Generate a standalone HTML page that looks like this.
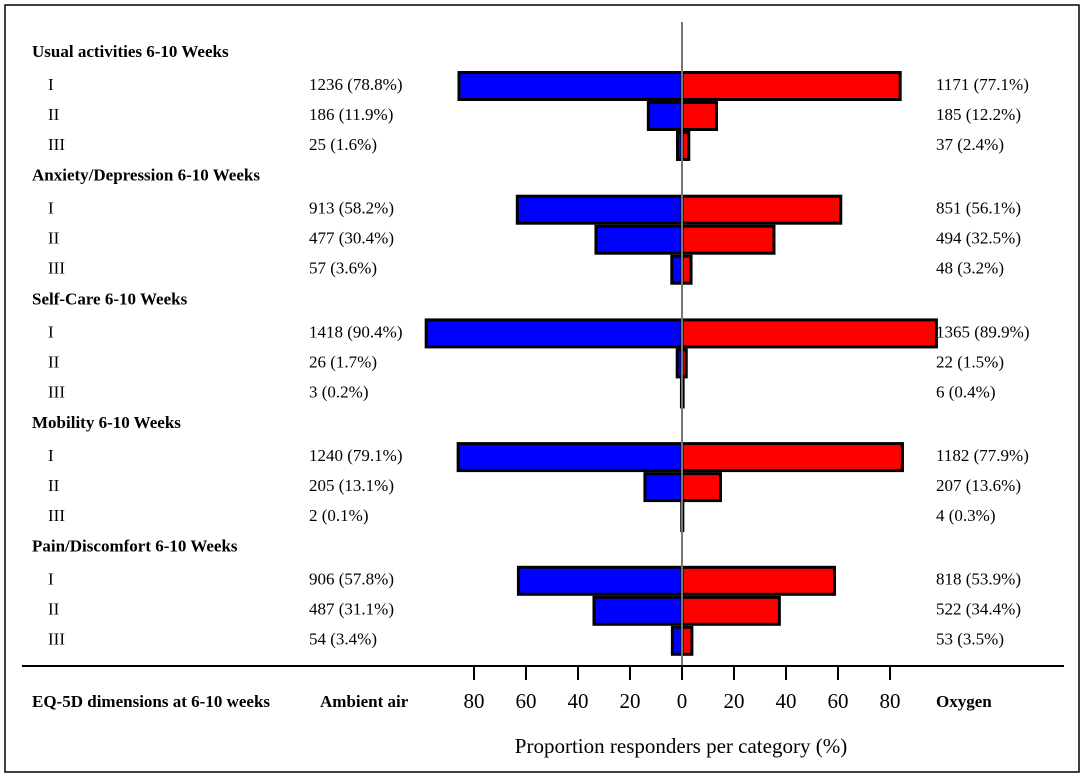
<!DOCTYPE html>
<html><head><meta charset="utf-8"><style>
body{margin:0;background:#fff;}
svg text{font-family:"Liberation Serif",serif;}
</style></head><body>
<svg id="c" width="1084" height="777">
<rect x="5" y="5" width="1074" height="767" fill="none" stroke="#000" stroke-width="1.5"/>
</svg>
<script>
const groups=["Usual activities 6-10 Weeks","Anxiety/Depression 6-10 Weeks","Self-Care 6-10 Weeks","Mobility 6-10 Weeks","Pain/Discomfort 6-10 Weeks"];
const levels=["I","II","III"];
const airN=[[1236,186,25],[913,477,57],[1418,26,3],[1240,205,2],[906,487,54]];
const airPct=[[78.8,11.9,1.6],[58.2,30.4,3.6],[90.4,1.7,0.2],[79.1,13.1,0.1],[57.8,31.1,3.4]];
const oxyN=[[1171,185,37],[851,494,48],[1365,22,6],[1182,207,4],[818,522,53]];
const oxyPct=[[77.1,12.2,2.4],[56.1,32.5,3.2],[89.9,1.5,0.4],[77.9,13.6,0.3],[53.9,34.4,3.5]];
const tickLabels=[80,60,40,20,0,20,40,60,80];
const tickVals=[-80,-60,-40,-20,0,20,40,60,80];
const NS="http://www.w3.org/2000/svg";
const svg=document.getElementById('c');
const cx=682, bs=2.83, ts=2.6;
const xb=v=>cx+v*bs, xt=v=>cx+v*ts;
function mk(t,a,p){const e=document.createElementNS(NS,t);for(const k in a)e.setAttribute(k,a[k]);(p||svg).appendChild(e);return e;}
function tx(s,x,y,opt){const e=mk('text',Object.assign({x:x,y:y,'font-size':17,'dominant-baseline':'middle'},opt||{}));e.textContent=s;return e;}
groups.forEach((g,gi)=>{
  const gy=53+gi*123.7;
  const h=tx(g,32,gy,{'font-weight':'bold'});
  
  
  levels.forEach((l,li)=>{
    const y=gy+33+li*30;
    const a=tx(l,48,y);
    const b=tx(airN[gi][li]+" ("+airPct[gi][li].toFixed(1)+"%)",309,y);
    const c=tx(oxyN[gi][li]+" ("+oxyPct[gi][li].toFixed(1)+"%)",936,y);
    const w1=xb(0)-xb(-airPct[gi][li]);
    const r1=mk('rect',{x:xb(-airPct[gi][li]),y:y-13.5,width:w1,height:27,fill:'#0000ff',stroke:'#000','stroke-width':3});
    
    
    const w2=xb(oxyPct[gi][li])-xb(0);
    const r2=mk('rect',{x:xb(0),y:y-13.5,width:w2,height:27,fill:'#ff0000',stroke:'#000','stroke-width':3});
    
    
  });
});
const cl=mk('line',{x1:cx,y1:22,x2:cx,y2:666,stroke:'#777','stroke-width':2});

const ax=mk('line',{x1:22,y1:666,x2:1064,y2:666,stroke:'#000','stroke-width':2});

tickVals.forEach((v,i)=>{
  const t=mk('line',{x1:xt(v),y1:666,x2:xt(v),y2:680,stroke:'#000','stroke-width':2});
  
  const l=tx(String(tickLabels[i]),xt(v),703,{'text-anchor':'middle','font-size':21});
  
});
let e;
e=tx("EQ-5D dimensions at 6-10 weeks",32,703,{'font-weight':'bold'});
e=tx("Ambient air",320,703,{'font-weight':'bold'});
e=tx("Oxygen",936,703,{'font-weight':'bold'});
e=tx("Proportion responders per category (%)",681,748,{'text-anchor':'middle','font-size':21});
</script>
</body></html>
